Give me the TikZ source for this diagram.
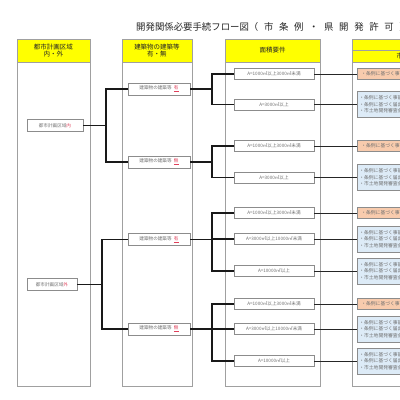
\documentclass[tikz,border=0pt]{standalone}
\usepackage{fontspec}
\newfontfamily\jp{Noto Sans CJK JP}
\definecolor{hdyellow}{HTML}{FFFF00}
\definecolor{orfill}{HTML}{F8CBAD}
\definecolor{blfill}{HTML}{DDEBF7}
\definecolor{colline}{HTML}{A0A0A0}
\definecolor{boxline}{HTML}{8C8C8C}
\definecolor{boxtext}{HTML}{707070}
\definecolor{mark}{HTML}{E0405A}
\tikzset{
  colbody/.style={draw=colline, line width=0.8pt},
  head/.style={draw=colline, line width=0.8pt, fill=hdyellow},
  headtext/.style={font=\jp\fontsize{6.5}{7.5}\selectfont, align=center, text=black!85},
  nbox/.style={draw=boxline, line width=0.6pt, fill=white, inner sep=0pt,
    font=\jp\fontsize{4.6}{5}\selectfont, text=boxtext},
  abox/.style={nbox, minimum width=80pt, minimum height=11pt},
  bbox/.style={nbox, minimum width=62pt, minimum height=12pt},
  obox/.style={draw=boxline, line width=0.6pt, fill=orfill, anchor=west, minimum width=80pt,
    minimum height=11pt, inner sep=0pt, font=\jp\fontsize{4.8}{5}\selectfont, text=boxtext},
  ubox/.style={draw=boxline, line width=0.6pt, fill=blfill, anchor=west, minimum width=80pt,
    minimum height=26pt, inner sep=0pt, font=\jp\fontsize{4.8}{6.5}\selectfont, text=boxtext},
  conn/.style={line width=1.3pt, black!90},
  thin/.style={line width=0.9pt, black!85}
}
\newcommand{\redmark}[1]{\textcolor{mark}{\underline{#1}}}
\begin{document}
\begin{tikzpicture}[x=1pt, y=-1pt]
\useasboundingbox (0,0) rectangle (400,400);
\clip (0,0) rectangle (400,400);
\fill[white] (0,0) rectangle (400,400);

% title
\node[anchor=west, inner sep=0pt, font=\jp\fontsize{9.4}{10}\selectfont, text=black!85] (title) at (136,27)
  {開発関係必要手続フロー図{\addfontfeature{LetterSpace=60}（市条例・県開発許可）}};

% columns
\draw[colbody] (17,39) rectangle (90,386);
\draw[head] (17,39) rectangle (90,62);
\node[headtext] (h1) at (53.5,50.5) {都市計画区域\\内・外};

\draw[colbody] (122,39) rectangle (192,386);
\draw[head] (122,39) rectangle (192,62);
\node[headtext] (h2) at (157,50.5) {建築物の建築等\\有・無};

\draw[colbody] (225,39) rectangle (320,386);
\draw[head] (225,39) rectangle (320,62);
\node[headtext] (h3) at (272.5,50.5) {面積要件};

\draw[colbody] (352,39) rectangle (460,386);
\draw[head] (352,39) rectangle (460,50.5);
\draw[head] (352,50.5) rectangle (460,62);
\node[headtext, anchor=west] (h4) at (393,56.5) {市条例};

% column 1
\node[nbox, minimum width=56pt, minimum height=12pt] (in) at (55,125.5) {都市計画区域\textcolor{mark}{内}};
\node[nbox, minimum width=50pt, minimum height=12pt] (out) at (52,284.5) {都市計画区域\textcolor{mark}{外}};

% column 2
\node[bbox] (b1) at (159,89) {建築物の建築等\enspace\redmark{有}};
\node[bbox] (b2) at (159,162) {建築物の建築等\enspace\redmark{無}};
\node[bbox] (b3) at (159,239.5) {建築物の建築等\enspace\redmark{有}};
\node[bbox] (b4) at (159,329) {建築物の建築等\enspace\redmark{無}};

% column 3
\node[abox] (a1) at (274,74) {A=1000㎡以上3000㎡未満};
\node[abox] (a2) at (274,104.5) {A=3000㎡以上};
\node[abox] (a3) at (274,146) {A=1000㎡以上3000㎡未満};
\node[abox] (a4) at (274,177.5) {A=3000㎡以上};
\node[abox] (a5) at (274,213) {A=1000㎡以上3000㎡未満};
\node[abox] (a6) at (274,239) {A=3000㎡以上10000㎡未満};
\node[abox] (a7) at (274,271) {A=10000㎡以上};
\node[abox] (a8) at (274,304) {A=1000㎡以上3000㎡未満};
\node[abox] (a9) at (274,329) {A=3000㎡以上10000㎡未満};
\node[abox] (a10) at (274,361) {A=10000㎡以上};

% column 4
\newcommand{\bluetext}{\parbox{78pt}{\raggedright・条例に基づく事前協議\\・条例に基づく届出\\・市土地開発審査会}}
\node[obox] (r1) at (357,74) {\makebox[80pt][l]{\hspace*{4pt}・条例に基づく事前協議}};
\node[ubox] (r2) at (357,104.5) {\hspace*{2pt}\bluetext};
\node[obox] (r3) at (357,146) {\makebox[80pt][l]{\hspace*{4pt}・条例に基づく事前協議}};
\node[ubox] (r4) at (357,177.5) {\hspace*{2pt}\bluetext};
\node[obox] (r5) at (357,213) {\makebox[80pt][l]{\hspace*{4pt}・条例に基づく事前協議}};
\node[ubox] (r6) at (357,239) {\hspace*{2pt}\bluetext};
\node[ubox] (r7) at (357,271) {\hspace*{2pt}\bluetext};
\node[obox] (r8) at (357,304) {\makebox[80pt][l]{\hspace*{4pt}・条例に基づく事前協議}};
\node[ubox] (r9) at (357,329) {\hspace*{2pt}\bluetext};
\node[ubox] (r10) at (357,361) {\hspace*{2pt}\bluetext};

% trunk coordinates
\coordinate (t1) at (106,125.5);
\coordinate (t2) at (102,284.5);
\coordinate (s1) at (212,89);
\coordinate (s2) at (212,162);
\coordinate (s3) at (212,239.5);
\coordinate (s4) at (212,329);

% column 1 -> column 2
\draw[conn] (in.east) -- (t1) |- (b1.west);
\draw[conn] (t1) |- (b2.west);
\draw[conn] (out.east) -- (t2) |- (b3.west);
\draw[conn] (t2) |- (b4.west);

% column 2 -> column 3
\draw[conn] (b1.east) -- (s1) |- (a1.west);
\draw[conn] (s1) |- (a2.west);
\draw[conn] (b2.east) -- (s2) |- (a3.west);
\draw[conn] (s2) |- (a4.west);
\draw[conn] (b3.east) -- (s3) |- (a5.west);
\draw[conn] (s3) |- (a6.west);
\draw[conn] (s3) |- (a7.west);
\draw[conn] (b4.east) -- (s4) |- (a8.west);
\draw[conn] (s4) |- (a9.west);
\draw[conn] (s4) |- (a10.west);

% column 3 -> column 4
\foreach \i in {1,...,10} {
  \draw[thin] (a\i.east) -- (r\i.west);
}
\end{tikzpicture}
\end{document}
